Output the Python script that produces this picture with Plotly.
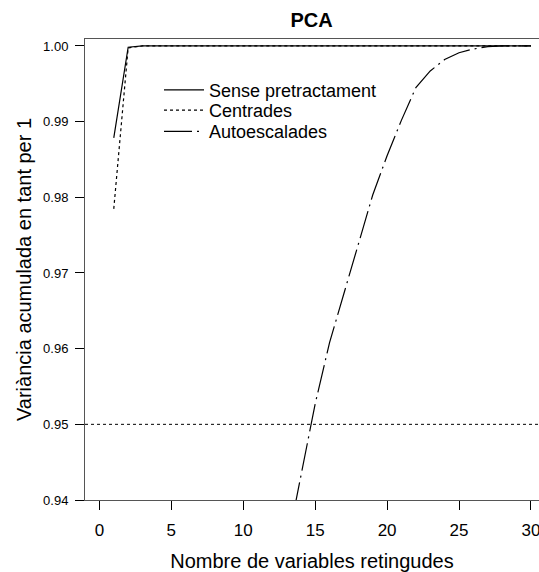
import plotly.graph_objects as go

# Number of retained variables
n_vars = list(range(1, 31))

# Cumulative explained variance (fraction) for each pretreatment
sense_pretractament = [0.98785, 0.99983] + [1.0] * 28
centrades = [0.97847, 0.99975] + [1.0] * 28

autoesc_vars = list(range(13, 31))
autoescalades = [0.9335, 0.9431, 0.9527, 0.9608, 0.9673, 0.9740, 0.9803,
                 0.9855, 0.9902, 0.9945, 0.9967, 0.9982, 0.9991, 0.9996,
                 0.9999, 1.0, 1.0, 1.0]

threshold = 0.95

x_ticks = [0, 5, 10, 15, 20, 25, 30]
y_ticks = [0.94, 0.95, 0.96, 0.97, 0.98, 0.99, 1.00]
y_ticklabels = ["0.94", "0.95", "0.96", "0.97", "0.98", "0.99", "1.00"]

FONT = "Arial, Liberation Sans, Helvetica, sans-serif"

fig = go.Figure()

fig.add_trace(go.Scatter(
    x=n_vars, y=sense_pretractament, mode="lines", name="Sense pretractament",
    line=dict(color="black", width=1.2, dash="solid"), legend="legend"))
fig.add_trace(go.Scatter(
    x=n_vars, y=centrades, mode="lines", name="Centrades",
    line=dict(color="black", width=1.2, dash="dot"), legend="legend2"))
fig.add_trace(go.Scatter(
    x=autoesc_vars, y=autoescalades, mode="lines", name="Autoescalades",
    line=dict(color="black", width=1.2, dash="28px,5px,2px,5px"), legend="legend3"))

# 95 % reference line
fig.add_hline(y=threshold, line=dict(color="black", width=1, dash="dot"))

# One single-entry legend per series, stacked as a compact key
legend_style = dict(xanchor="left", yanchor="middle", bgcolor="rgba(0,0,0,0)",
                    borderwidth=0, itemwidth=40,
                    font=dict(size=18, family=FONT, color="black"))

fig.update_layout(
    width=539, height=572,
    margin=dict(l=85, r=0, t=39, b=72),
    plot_bgcolor="white", paper_bgcolor="white",
    font=dict(family=FONT, color="black"),
    title=dict(text="<b>PCA</b>", x=0.578, xanchor="center", y=0.965, yanchor="middle",
               font=dict(size=20, family=FONT, color="black")),
    showlegend=True,
    legend=dict(x=0.163, y=0.889, **legend_style),
    legend2=dict(x=0.163, y=0.845, **legend_style),
    legend3=dict(x=0.163, y=0.799, **legend_style),
)

fig.update_xaxes(
    range=[-1.0, 30.56], tickmode="array", tickvals=x_ticks,
    ticks="outside", ticklen=9, tickcolor="black", tickwidth=1,
    tickfont=dict(size=17, family=FONT, color="black"),
    ticklabelstandoff=6, ticklabeloverflow="allow",
    showgrid=False, zeroline=False,
    showline=True, linecolor="#555555", linewidth=1, mirror=True,
    title=dict(text="Nombre de variables retingudes", standoff=16,
               font=dict(size=20, family=FONT, color="black")),
)

fig.update_yaxes(
    range=[0.94, 1.00092], tickmode="array", tickvals=y_ticks, ticktext=y_ticklabels,
    ticks="outside", ticklen=9, tickcolor="black", tickwidth=1,
    tickfont=dict(size=13, family=FONT, color="black"),
    ticklabelstandoff=4,
    showgrid=False, zeroline=False,
    showline=True, linecolor="#555555", linewidth=1, mirror=False,
    title=dict(text="Variància acumulada en tant per 1", standoff=6,
               font=dict(size=20, family=FONT, color="black")),
)

fig.write_html("out.html")
